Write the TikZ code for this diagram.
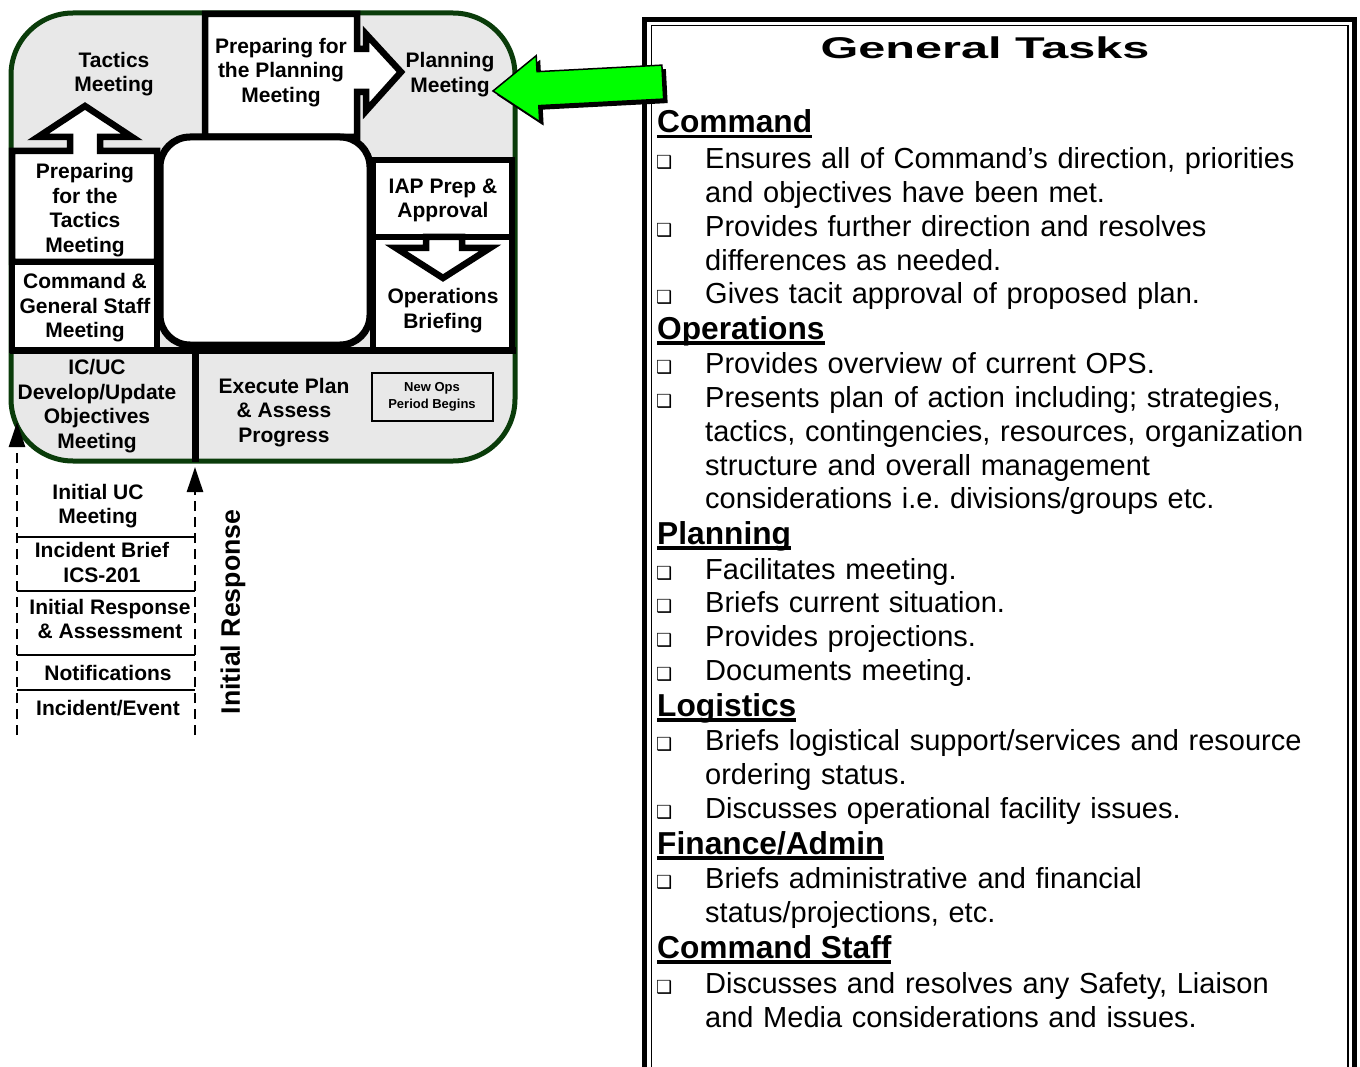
\documentclass[tikz,border=0pt]{standalone}
\usepackage{fontspec}
\setmainfont{Liberation Sans}
\newfontfamily\dejavu{DejaVu Sans}
\usepackage{graphicx}
\usetikzlibrary{arrows.meta}
\frenchspacing
\newsavebox\headbox
\newcommand{\headul}[1]{\sbox\headbox{#1}\rlap{\rule[-5.5pt]{\wd\headbox}{3.5pt}}\usebox\headbox}
\definecolor{panelgray}{RGB}{232,232,232}
\definecolor{rimgreen}{RGB}{10,60,10}
\definecolor{arrowgreen}{RGB}{0,255,0}
\tikzset{
  box/.style={draw=black, fill=white, line width=6.5pt, line join=miter},
  lbl/.style={font=\fontsize{21}{24.5}\selectfont\bfseries, align=center, inner sep=0pt},
  head/.style={font=\fontsize{31.7}{34}\selectfont\bfseries, anchor=base west, inner sep=0pt},
  task/.style={font=\fontsize{29}{33.8}\selectfont, anchor=base west, text width=640pt, align=left, inner sep=0pt},
  chk/.style={font=\dejavu\fontsize{18}{18}\selectfont, anchor=base west, inner sep=0pt},
  rung/.style={line width=2pt},
  flow/.style={line width=2.5pt, dash pattern=on 10pt off 6pt, -{Triangle[length=25pt, width=16pt]}}
}

\begin{document}
\begin{tikzpicture}[x=1pt, y=-1pt]
    \useasboundingbox (0,0) rectangle (1360,1067);

    % planning cycle
    \draw[rimgreen, fill=panelgray, line width=5pt, rounded corners=62pt] (11,13) rectangle (515,461);
    \draw[box] (205,14) -- (357,14) -- (357,49) -- (366,49) -- (366,34) -- (401,72) -- (366,111) -- (366,92) -- (357,92) -- (357,137) -- (205,137) -- cycle;
    \draw[box] (12,151) -- (70,151) -- (70,137) -- (38,137) -- (85,106) -- (132,137) -- (100,137) -- (100,151) -- (157,151) -- (157,262) -- (12,262) -- cycle;
    \draw[box] (12,262) rectangle (157,350);
    \draw[box] (373,160) rectangle (512,237);
    \draw[box] (373,237) rectangle (512,350);
    \draw[box] (426,237) -- (426,248) -- (396,248) -- (443,278) -- (490,248) -- (462,248) -- (462,237) -- cycle;
    \draw[line width=7pt] (10,350) -- (516,350);
    \draw[line width=7pt] (195,350) -- (195,462);
    \draw[box, line width=7pt, rounded corners=30pt] (160,137) rectangle (370,345);

    \node[lbl] (tactics) at (114,74) {Tactics\\Meeting};
    \node[lbl] (prepPlan) at (281,72.5) {Preparing for\\the Planning\\Meeting};
    \node[lbl] (planMtg) at (450,74.5) {Planning\\Meeting};
    \node[lbl] (prepTac) at (85,210) {Preparing\\for the\\Tactics\\Meeting};
    \node[lbl] (cgsMtg) at (85,308) {Command \&\\General Staff\\Meeting};
    \node[lbl] (iap) at (443,200.5) {IAP Prep \&\\Approval};
    \node[lbl] (opsBrief) at (443,310.5) {Operations\\Briefing};
    \node[lbl] (icuc) at (97,406) {IC/UC\\Develop/Update\\Objectives\\Meeting};
    \node[lbl] (execute) at (284,412.5) {Execute Plan\\\& Assess\\Progress};
    \node[draw, line width=2pt, minimum width=121pt, minimum height=48pt, inner sep=0pt,
          font=\fontsize{13}{16.5}\selectfont\bfseries, align=center] (newOps) at (432,397) {New Ops\\Period Begins};

    % initial response
    \coordinate (ucFoot) at (17,735);
    \coordinate (ucEntry) at (17,422);
    \coordinate (irFoot) at (195,735);
    \coordinate (irEntry) at (195,467);
    \draw[flow] (ucFoot) -- (ucEntry);
    \draw[flow] (irFoot) -- (irEntry);
    \foreach \y in {537,591,655,690}
      \draw[rung] (17,\y) -- (195,\y);

    \node[lbl] (ucMtg) at (98,506) {Initial UC\\Meeting};
    \node[lbl] (brief) at (102,562.5) {Incident Brief\\ICS-201};
    \node[lbl] (initResp) at (110,619) {Initial Response\\\& Assessment};
    \node[lbl] (notif) at (108,672.5) {Notifications};
    \node[lbl] (incident) at (108,708.5) {Incident/Event};
    \node[font=\fontsize{26.7}{28}\selectfont\bfseries, rotate=90, inner sep=0pt] (initial) at (233,612) {Initial Response};

    % general tasks panel
    \draw[line width=5pt] (644.5,1080) -- (644.5,20) -- (1354,20) -- (1354,1080);
    \draw[line width=1.6pt] (651.5,1080) -- (651.5,25.5) -- (1348,25.5) -- (1348,1080);
    \node[font=\fontsize{30}{32}\selectfont\bfseries, inner sep=0pt] (title) at (985,47.5) {\scalebox{1.62}[1]{General Tasks}};

    \node[head] (hCmd) at (657,133) {\headul{Command}};
    \node[task] (cmd1) at (705,168.5) {Ensures all of Command’s direction, priorities\\and objectives have been met.};
    \node[task] (cmd2) at (705,236.5) {Provides further direction and resolves\\differences as needed.};
    \node[task] (cmd3) at (705,303.5) {Gives tacit approval of proposed plan.};

    \node[head] (hOps) at (657,339) {\headul{Operations}};
    \node[task] (ops1) at (705,373.5) {Provides overview of current OPS.};
    \node[task] (ops2) at (705,407.5) {Presents plan of action including; strategies,\\tactics, contingencies, resources, organization\\structure and overall management\\considerations i.e. divisions/groups etc.};

    \node[head] (hPlan) at (657,544) {\headul{Planning}};
    \node[task] (plan1) at (705,579.5) {Facilitates meeting.};
    \node[task] (plan2) at (705,612.5) {Briefs current situation.};
    \node[task] (plan3) at (705,646.5) {Provides projections.};
    \node[task] (plan4) at (705,680.5) {Documents meeting.};

    \node[head] (hLog) at (657,716) {\headul{Logistics}};
    \node[task] (log1) at (705,750.5) {Briefs logistical support/services and resource\\ordering status.};
    \node[task] (log2) at (705,818.5) {Discusses operational facility issues.};

    \node[head] (hFin) at (657,854) {\headul{Finance/Admin}};
    \node[task] (fin1) at (705,888.5) {Briefs administrative and financial\\status/projections, etc.};

    \node[head] (hStaff) at (657,958) {\headul{Command Staff}};
    \node[task] (staff1) at (705,993.5) {Discusses and resolves any Safety, Liaison\\and Media considerations and issues.};

    \foreach \y [count=\i] in {168.5,236.5,303.5,373.5,407.5,579.5,612.5,646.5,680.5,750.5,818.5,888.5,993.5}
      \node[chk] (chk\i) at (656,\y) {❑};

    % pointer to planning meeting
    \begin{scope}[shift={(497,95)}, rotate=3]
      \fill[black] (0,0) -- (45,-33) -- (45,-17) -- (170,-17) -- (170,17) -- (45,17) -- (45,33) -- cycle;
    \end{scope}
    \begin{scope}[shift={(493,91)}, rotate=3]
      \draw[fill=arrowgreen, line width=1.5pt, line join=miter] (0,0) -- (45,-33) -- (45,-17) -- (170,-17) -- (170,17) -- (45,17) -- (45,33) -- cycle;
    \end{scope}
\end{tikzpicture}
\end{document}
